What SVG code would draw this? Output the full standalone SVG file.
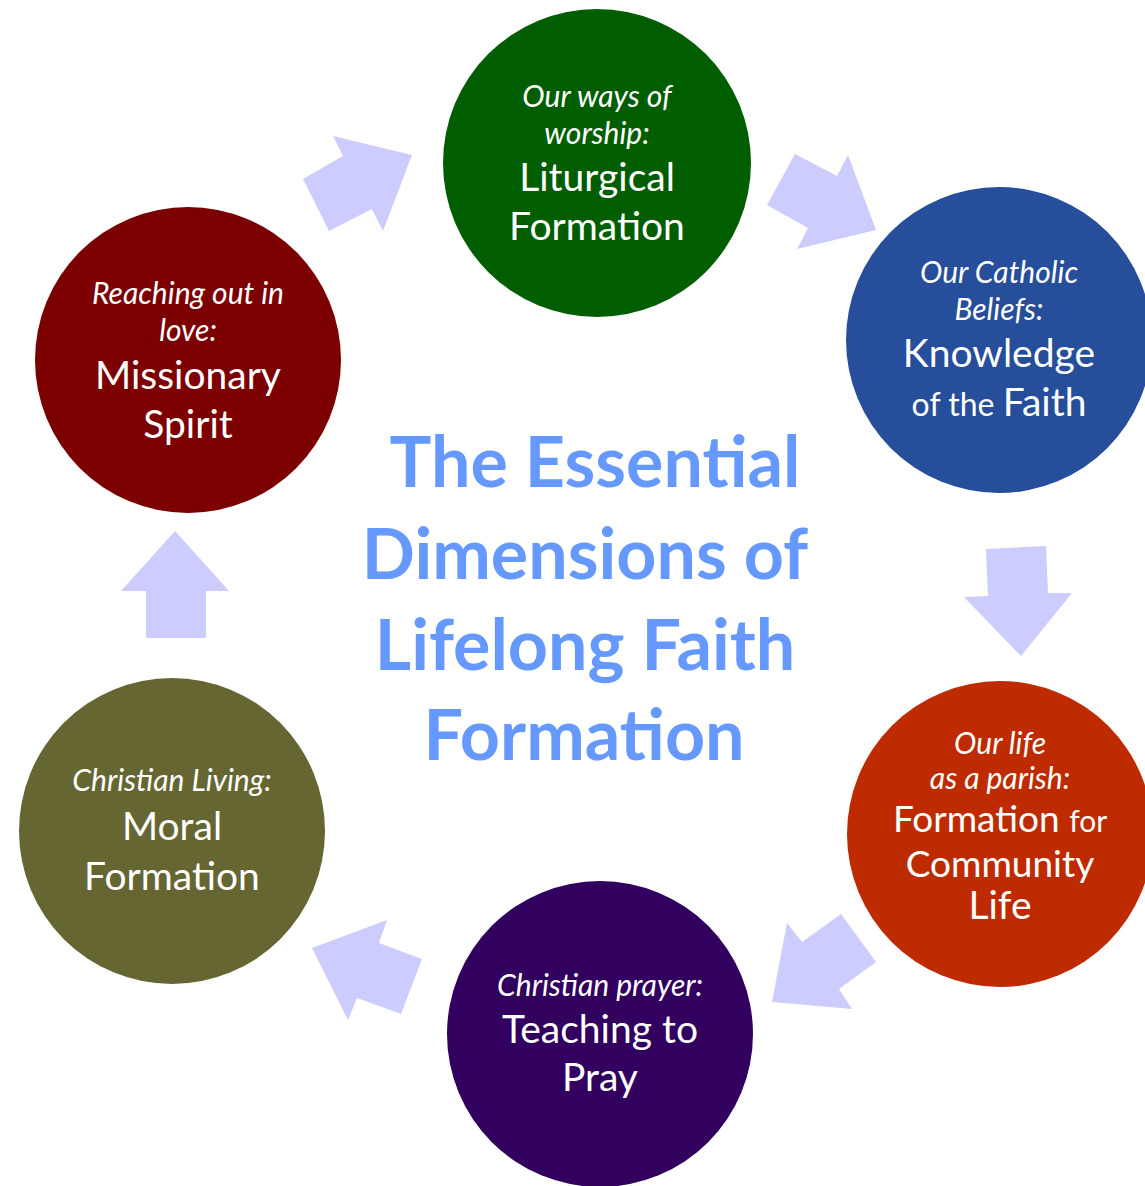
<svg xmlns="http://www.w3.org/2000/svg" width="1145" height="1186" viewBox="0 0 1145 1186">
<style>
.t{font-family:Lato,"Open Sans","Liberation Sans",sans-serif;fill:#fff;text-anchor:middle}
.i{font-style:italic;font-size:30px}
.m{font-size:39px}
.s{font-size:32px}
.title{font-family:Lato,"Open Sans","Liberation Sans",sans-serif;font-weight:bold;font-size:70px;fill:#6699FF;text-anchor:middle}
.arr{fill:#CCCCFF}
</style>
<rect width="1145" height="1186" fill="#fff"/>
<g id="connectors">
<polygon class="arr" points="333,136 343,156 303,179 329,231 372,209 383,231 412,155"/>
<polygon class="arr" points="795,154 837,176 848,155 876,230 797,249 808,228 767,205"/>
<polygon class="arr" points="986,549 1046,546 1048,593 1072,593 1021,656 964,597 988,596"/>
<polygon class="arr" points="841,914 876,962 839,989 852,1009 772,1002 787,923 802,942"/>
<polygon class="arr" points="312,948 387,920 379,943 422,959 401,1014 357,998 348,1020"/>
<polygon class="arr" points="175,531 229,591 206,591 206,638 146,638 146,591 121,591"/>
</g>
<g id="title">
<text class="title" x="595" y="487">The Essential</text>
<text class="title" x="585" y="579">Dimensions of</text>
<text class="title" x="585" y="670">Lifelong Faith</text>
<text class="title" x="584" y="760">Formation</text>
</g>
<g id="liturgical">
<circle cx="597" cy="163" r="154" fill="#005E00"/>
<text class="t i" x="597" y="107">Our ways of</text>
<text class="t i" x="597" y="144">worship:</text>
<text class="t m" x="597" y="191">Liturgical</text>
<text class="t m" x="597" y="240">Formation</text>
</g>
<g id="knowledge">
<circle cx="999" cy="340" r="153" fill="#264E9A"/>
<text class="t i" x="999" y="283">Our Catholic</text>
<text class="t i" x="999" y="320">Beliefs:</text>
<text class="t m" x="999" y="367">Knowledge</text>
<text class="t" x="999" y="416"><tspan class="s">of the </tspan><tspan class="m">Faith</tspan></text>
</g>
<g id="community">
<circle cx="1000" cy="834" r="153" fill="#BE2B00"/>
<text class="t i" x="1000" y="754">Our life</text>
<text class="t i" x="1000" y="789">as a parish:</text>
<text class="t" x="1000" y="832"><tspan style="font-size:37px">Formation </tspan><tspan style="font-size:30px">for</tspan></text>
<text class="t" x="1000" y="877" style="font-size:37px">Community</text>
<text class="t m" x="1000" y="919">Life</text>
</g>
<g id="prayer">
<circle cx="600" cy="1034" r="153" fill="#32005F"/>
<text class="t i" x="600" y="996">Christian prayer:</text>
<text class="t m" x="600" y="1043">Teaching to</text>
<text class="t m" x="600" y="1091">Pray</text>
</g>
<g id="moral">
<circle cx="172" cy="831" r="153" fill="#666633"/>
<text class="t i" x="172" y="791">Christian Living:</text>
<text class="t m" x="172" y="840">Moral</text>
<text class="t m" x="172" y="890">Formation</text>
</g>
<g id="missionary">
<circle cx="188" cy="360" r="153" fill="#7D0000"/>
<text class="t i" x="188" y="304">Reaching out in</text>
<text class="t i" x="188" y="341">love:</text>
<text class="t m" x="188" y="389">Missionary</text>
<text class="t m" x="188" y="438">Spirit</text>
</g>
</svg>
